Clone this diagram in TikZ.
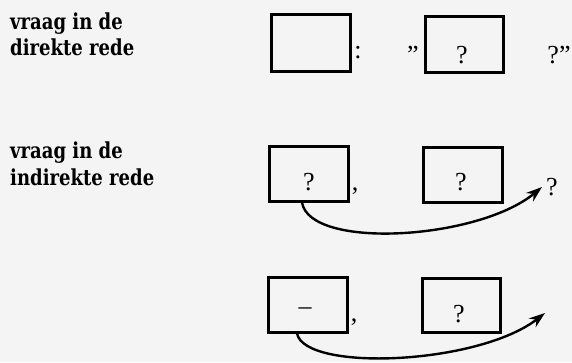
\documentclass[tikz,border=0pt]{standalone}
\usepackage{fontspec}
\setmainfont{Liberation Serif}
\newfontfamily\headfont[FakeStretch=0.82]{DejaVu Serif}
\usetikzlibrary{arrows.meta}
\definecolor{paper}{HTML}{F4F4F4}
\begin{document}
\begin{tikzpicture}[x=1pt,y=-1pt,
  frame/.style={draw, line width=3pt, inner sep=0pt},
  heading/.style={font=\fontsize{22}{24}\headfont\bfseries, anchor=base west, inner sep=0pt},
  sign/.style={font=\fontsize{26}{28}\selectfont, anchor=base, inner sep=0pt},
  link/.style={line width=2.4pt, -{Stealth[length=16pt,width=11pt]}}]
  % page
  \fill[paper] (0,0) rectangle (572,362);
  \useasboundingbox (0,0) rectangle (572,362);

  % headings
  \node[heading] (h1a) at (10,29) {vraag in de};
  \node[heading] (h1b) at (10,55) {direkte rede};
  \node[heading] (h2a) at (10,158) {vraag in de};
  \node[heading] (h2b) at (10,185) {indirekte rede};

  % direct question
  \node[frame, minimum width=79pt, minimum height=57pt] (b1) at (310.5,42.5) {};
  \node[frame, minimum width=78pt, minimum height=56pt] (b2) at (464,44) {};
  \node[sign] (colon) at (358,58) {:};
  \node[sign] (open) at (413,63) {”};
  \node[sign] (q1) at (462,63) {?};
  \node[sign] (close) at (559,63) {?”};

  % indirect question
  \node[frame, minimum width=79pt, minimum height=55pt] (b3) at (308.5,173.5) {};
  \node[frame, minimum width=79pt, minimum height=55pt] (b4) at (462.5,174.5) {};
  \node[sign] (q2) at (309,190) {?};
  \node[sign] (comma2) at (355,190) {,};
  \node[sign] (q3) at (461,190) {?};
  \node[sign] (q4) at (552,195) {?};
  \coordinate (tip2) at (542,187);
  \draw[link] ([xshift=-6.5pt]b3.south) .. controls (310,250) and (478,240) .. (tip2);

  % without question word
  \node[frame, minimum width=79pt, minimum height=55pt] (b5) at (307.5,304.5) {};
  \node[frame, minimum width=78pt, minimum height=54pt] (b6) at (461,305) {};
  \node[sign] (dash) at (305,314) {–};
  \node[sign] (comma3) at (354,321) {,};
  \node[sign] (q5) at (459,322) {?};
  \coordinate (tip3) at (545,313);
  \draw[link] ([xshift=-10.5pt]b5.south) .. controls (305,372) and (478,365) .. (tip3);
\end{tikzpicture}
\end{document}
